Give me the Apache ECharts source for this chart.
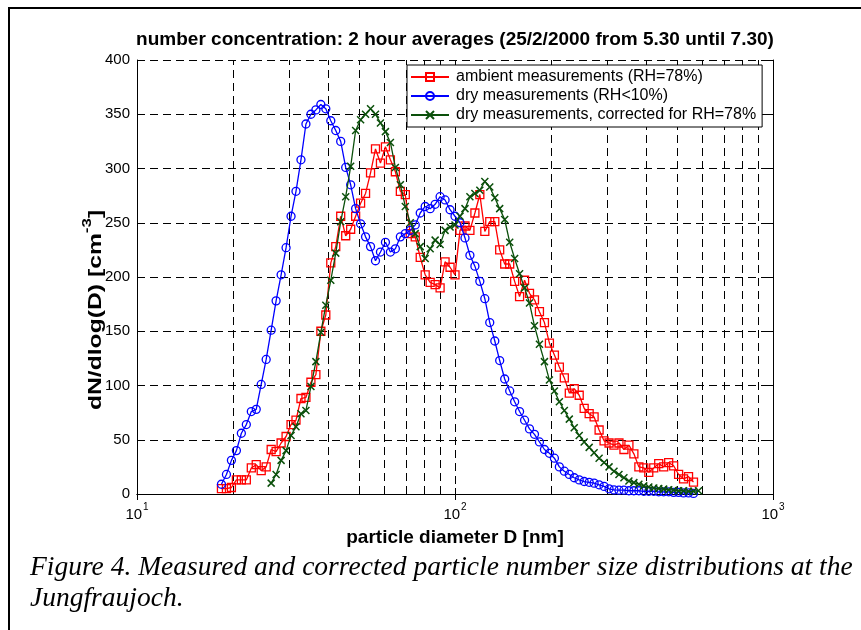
<!DOCTYPE html>
<html>
<head>
<meta charset="utf-8">
<script src="https://cdn.jsdelivr.net/npm/echarts@6/dist/echarts.min.js"></script>
<style>
  html, body { margin: 0; padding: 0; background: #fff; }
  #chart { width: 861px; height: 630px; }
</style>
</head>
<body>
<div id="chart"></div>
<script>
// particle diameter channels [nm]
const diam = [
  18.43, 19.11, 19.81, 20.54, 21.29, 22.07, 22.88, 23.71, 24.58, 25.48,
  26.42, 27.38, 28.39, 29.43, 30.51, 31.62, 32.78, 33.98, 35.23, 36.52,
  37.86, 39.24, 40.68, 42.17, 43.71, 45.32, 46.98, 48.70, 50.48, 52.33,
  54.25, 56.23, 58.29, 60.43, 62.64, 64.94, 67.32, 69.78, 72.34, 74.99,
  77.74, 80.58, 83.54, 86.60, 89.77, 93.06, 96.47, 100.0, 103.7, 107.5,
  111.4, 115.5, 119.7, 124.1, 128.6, 133.4, 138.2, 143.3, 148.6, 154.0,
  159.6, 165.5, 171.5, 177.8, 184.3, 191.1, 198.1, 205.4, 212.9, 220.7,
  228.8, 237.1, 245.8, 254.8, 264.2, 273.8, 283.9, 294.3, 305.1, 316.2,
  327.8, 339.8, 352.3, 365.2, 378.6, 392.4, 406.8, 421.7, 437.1, 453.2,
  469.8, 487.0, 504.8, 523.3, 542.5, 562.3, 583.1
]

// ambient measurements (RH=78%)
const ambient = [
  5, 5, 6, 13, 13, 13, 24, 27, 21.5, 25,
  41, 39, 47, 53, 64, 68, 88, 89, 103, 110,
  150, 165, 213, 228, 256, 238, 244, 256, 268, 277,
  296, 318, 305, 320, 308, 297, 279, 276, 240, 237,
  218, 202, 195, 193, 190, 214, 209, 202, 243, 247,
  243, 259, 276, 242, 251, 251, 225, 212, 212, 196,
  182, 197, 185, 179, 168, 158, 139, 128, 117, 107,
  93, 97, 91, 79, 74, 71, 59, 49, 47, 45,
  47, 41, 45, 37, 25, 24, 20, 24, 28, 25,
  29, 26, 18, 14, 16, 11, null
]

// dry measurements (RH<10%)
const dry = [
  9, 18, 31, 40, 56, 64, 76, 78, 101, 124,
  151, 178, 202, 227, 256, 279, 308, 341, 350, 354,
  359, 355, 344, 335, 325, 301, 285, 263, 249, 237,
  228, 215, 223, 232, 223, 226, 237, 240, 243, 248,
  259, 265, 263, 267, 274, 271, 262, 256, 250, 236,
  220, 210, 196, 180, 158, 141, 123, 106, 95, 85,
  76, 68, 60, 55, 48, 41, 37.5, 33, 25, 21,
  18, 15, 13, 11.5, 10.8, 10, 8.5, 7, 4.8, 3.8,
  3.5, 3.5, 3, 3, 3, 2.5, 2.5, 2.5, 2, 2,
  2, 1.5, 1.5, 1, 1, 0.5, null
]

// dry measurements, corrected for RH=78%
const corrected = [
  null, null, null, null, null, null, null, null, null, null,
  10, 18, 31, 40, 54, 62, 74, 77, 99, 122,
  149, 174, 197, 222, 251, 274, 302, 335, 345, 350,
  355, 350, 342, 334, 324, 301, 285, 265, 250, 240,
  228, 217, 226, 234, 230, 243, 246, 248, 256, 263,
  274, 277, 280, 288, 283, 273, 263, 253, 232, 217,
  203, 190, 176, 155, 138, 122, 105, 95, 85, 77,
  69, 61, 54, 48, 43, 38, 33, 29, 25, 21,
  18, 15, 12, 10.5, 9, 7.5, 6.5, 5.5, 5, 4.5,
  4, 3.5, 3, 3, 2.5, 2.5, 3
]

// log grid lines between decades
const minorGrid = [20, 30, 40, 50, 60, 70, 80, 90, 200, 300, 400, 500, 600, 700, 800, 900]

const seriesNames = [
  'ambient measurements (RH=78%)',
  'dry measurements (RH<10%)',
  'dry measurements, corrected for RH=78%'
]

const pairs = (vals) => diam.map((d, i) => [d, vals[i]]).filter(p => p[1] != null)

const FONT = 'Liberation Sans'
const chart = echarts.init(document.getElementById('chart'), null, { renderer: 'canvas' })

const axisLineStyle = { color: '#000', width: 1 }
const gridDash = { color: '#000', width: 1, type: [8, 5] }

const option = {
  backgroundColor: '#fff',
  animation: false,
  title: {
    text: 'number concentration: 2 hour averages (25/2/2000 from 5.30 until 7.30)',
    left: 455,
    textAlign: 'center',
    top: 30,
    padding: 0,
    textStyle: { fontFamily: FONT, fontSize: 19, fontWeight: 'bold', color: '#000' }
  },
  legend: {
    data: seriesNames,
    orient: 'vertical',
    left: 407,
    top: 65,
    padding: [4, 6, 4, 3],
    itemGap: 3,
    itemWidth: 38,
    itemHeight: 10,
    backgroundColor: '#fff',
    borderColor: '#000',
    borderWidth: 1,
    borderRadius: 0,
    textStyle: { fontFamily: FONT, fontSize: 16, color: '#000', padding: [0, 0, 0, 2] }
  },
  grid: { left: 137, top: 60, width: 636, height: 434, containLabel: false },
  xAxis: [
    {
      type: 'log',
      logBase: 10,
      min: 10,
      max: 1000,
      name: 'particle diameter D [nm]',
      nameLocation: 'middle',
      nameGap: 34,
      nameTextStyle: { fontFamily: FONT, fontSize: 19, fontWeight: 'bold', color: '#000' },
      axisLine: { show: true, lineStyle: axisLineStyle },
      axisTick: { show: true, inside: true, length: 6, lineStyle: axisLineStyle },
      axisLabel: {
        margin: 8,
        formatter: (v) => '{b|10}{s|' + Math.round(Math.log10(v)) + '}',
        rich: {
          b: { fontFamily: FONT, fontSize: 15, color: '#000', lineHeight: 20, verticalAlign: 'bottom' },
          s: { fontFamily: FONT, fontSize: 10, color: '#000', lineHeight: 20, verticalAlign: 'top', padding: [0, 0, 0, 1] }
        }
      },
      splitLine: { show: true, lineStyle: gridDash }
    },
    {
      type: 'log',
      logBase: 10,
      min: 10,
      max: 1000,
      position: 'top',
      axisLine: { show: true, lineStyle: axisLineStyle },
      axisTick: { show: true, inside: true, length: 6, lineStyle: axisLineStyle },
      axisLabel: { show: false },
      splitLine: { show: false }
    }
  ],
  yAxis: [
    {
      type: 'value',
      min: 0,
      max: 400,
      interval: 50,
      axisLine: { show: true, lineStyle: axisLineStyle },
      axisTick: { show: true, inside: true, length: 6, lineStyle: axisLineStyle },
      axisLabel: { fontFamily: FONT, fontSize: 15, color: '#000', margin: 7 },
      splitLine: { show: true, lineStyle: gridDash }
    },
    {
      type: 'value',
      min: 0,
      max: 400,
      interval: 50,
      position: 'right',
      axisLine: { show: true, lineStyle: axisLineStyle },
      axisTick: { show: true, inside: true, length: 6, lineStyle: axisLineStyle },
      axisLabel: { show: false },
      splitLine: { show: false }
    }
  ],
  series: [
    {
      type: 'custom',
      silent: true,
      z: 1,
      data: minorGrid.map(v => [v, 0]),
      renderItem: (params, api) => {
        const v = api.value(0)
        const b = api.coord([v, 0])
        const t = api.coord([v, 400])
        const x = Math.round(b[0]) + 0.5
        return {
          type: 'group',
          children: [
            { type: 'line', shape: { x1: x, y1: b[1], x2: x, y2: t[1] }, style: { stroke: '#000', lineWidth: 1, lineDash: [8, 5] } },
            { type: 'line', shape: { x1: x, y1: b[1], x2: x, y2: b[1] - 4 }, style: { stroke: '#000', lineWidth: 1 } },
            { type: 'line', shape: { x1: x, y1: t[1], x2: x, y2: t[1] + 4 }, style: { stroke: '#000', lineWidth: 1 } }
          ]
        }
      }
    },
    {
      name: seriesNames[0],
      type: 'line',
      data: pairs(ambient),
      symbol: 'rect',
      symbolSize: 8,
      z: 3,
      lineStyle: { color: '#ff0000', width: 1.3 },
      itemStyle: { color: 'rgba(0,0,0,0)', borderColor: '#ff0000', borderWidth: 1.3 }
    },
    {
      name: seriesNames[1],
      type: 'line',
      data: pairs(dry),
      symbol: 'circle',
      symbolSize: 8,
      z: 4,
      lineStyle: { color: '#0000ff', width: 1.3 },
      itemStyle: { color: 'rgba(0,0,0,0)', borderColor: '#0000ff', borderWidth: 1.3 }
    },
    {
      name: seriesNames[2],
      type: 'line',
      data: pairs(corrected),
      symbol: 'path://M0,0L10,10M10,0L0,10',
      symbolSize: 7,
      z: 5,
      lineStyle: { color: '#0b500b', width: 1.3 },
      itemStyle: { color: 'rgba(0,0,0,0)', borderColor: '#0b500b', borderWidth: 1.5 }
    }
  ],
  graphic: [
    { type: 'line', shape: { x1: 9, y1: 8, x2: 9, y2: 630 }, style: { stroke: '#000', lineWidth: 2 } },
    { type: 'line', shape: { x1: 8, y1: 8, x2: 861, y2: 8 }, style: { stroke: '#000', lineWidth: 2 } },
    {
      // y axis title, placed like the original figure
      type: 'text', x: 93, y: 310, rotation: Math.PI / 2, scaleX: 1.3,
      style: {
        text: '{b|dN/dlog(D) [cm}{s|-3}{b|]}',
        align: 'center',
        verticalAlign: 'middle',
        rich: {
          b: { fontFamily: FONT, fontSize: 19, fontWeight: 'bold', fill: '#000', lineHeight: 24, verticalAlign: 'bottom' },
          s: { fontFamily: FONT, fontSize: 13, fontWeight: 'bold', fill: '#000', lineHeight: 24, verticalAlign: 'top' }
        }
      }
    },
    {
      type: 'text', left: 30, top: 554,
      style: { text: 'Figure 4. Measured and corrected particle number size distributions at the', fontFamily: 'Liberation Serif', fontStyle: 'italic', fontSize: 27.5, fill: '#000' }
    },
    {
      type: 'text', left: 30, top: 585,
      style: { text: 'Jungfraujoch.', fontFamily: 'Liberation Serif', fontStyle: 'italic', fontSize: 27.5, fill: '#000' }
    }
  ]
}

chart.setOption(option)
</script>
</body>
</html>
